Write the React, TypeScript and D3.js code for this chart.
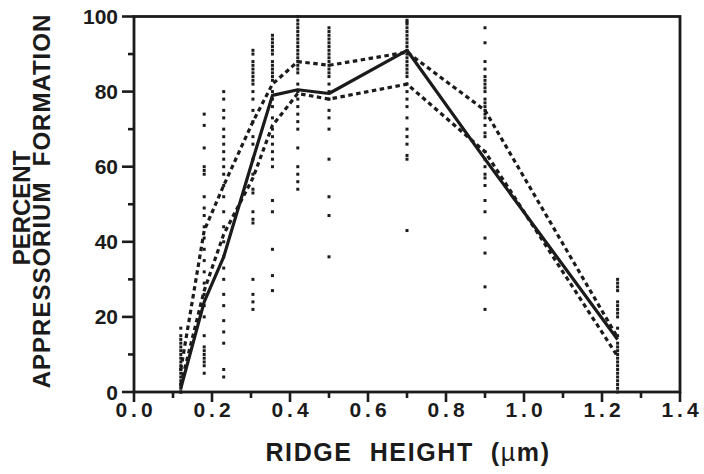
import React from 'react';
import * as d3 from 'd3';

// ridge heights (um) where measurements were taken
const ridgeHeights = [0.12, 0.18, 0.23, 0.305, 0.355, 0.42, 0.5, 0.7, 0.9, 1.24];

// mean and the two dashed bounding curves
const meanFormation = [1, 24, 36, 62, 79, 80.5, 79.5, 91, 62, 14];
const upperFormation = [6, 43, 55, 72, 82, 88, 87, 90.5, 75, 14.5];
const lowerFormation = [2, 27, 42, 57, 71, 79.5, 78, 82, 64, 9.5];

// individual observations, one list per ridge height
const obs012 = [0, 0, 1, 2, 2, 3, 4, 5, 6, 6, 7, 8, 9, 10, 11, 12, 13, 14, 15, 17];
const obs018 = [74, 71, 65, 60, 59, 58, 52, 49, 47, 44, 41, 38, 35, 32, 29, 26, 23, 20, 15, 12, 11, 10, 9, 8, 7, 5];
const obs023 = [80, 78, 75, 73, 70, 68, 66, 64, 62, 60, 58, 55, 52, 48, 44, 40, 36, 33, 30, 26, 23, 19, 16, 13, 6, 4];
const obs030 = [91, 90, 88, 87, 86, 85, 84, 83, 82, 80, 78, 75, 72, 68, 66, 62, 58, 54, 53, 48, 46, 45, 30, 26, 24, 22];
const obs035 = [95, 94, 93, 92, 91, 90, 88, 87, 86, 85, 84, 83, 80, 78, 76, 73, 70, 68, 66, 64, 62, 60, 51, 48, 38, 31, 27];
const obs042 = [100, 99, 98, 97, 96, 95, 94, 93, 92, 91, 90, 89, 88, 87, 86, 85, 82, 80, 78, 76, 74, 72, 70, 65, 60, 58, 56, 54];
const obs050 = [97, 96, 95, 94, 93, 92, 91, 90, 89, 88, 87, 86, 85, 84, 82, 80, 78, 75, 73, 70, 62, 52, 47, 36];
const obs070 = [99, 98.5, 98, 97, 96, 95, 94, 93, 92, 91, 90, 89, 88, 87, 86, 85, 84, 82, 80, 78, 76, 73, 70, 68, 66, 63, 62, 43];
const obs090 = [97, 93, 88, 86, 84, 83, 82, 81, 80, 78, 77, 76, 75, 74, 73, 71, 69, 68, 64, 62, 60, 58, 57, 55, 51, 48, 41, 37, 28, 22];
const obs124 = [30, 29, 28, 27, 24, 23, 22, 21, 20, 17, 15, 13, 12, 11, 10, 9, 8, 7, 6, 5, 4, 3, 2, 1, 0];

const observations = [obs012, obs018, obs023, obs030, obs035, obs042, obs050, obs070, obs090, obs124];

const xTicks = [0, 0.2, 0.4, 0.6, 0.8, 1.0, 1.2, 1.4];
const xMinorTicks = [0.1, 0.3, 0.5, 0.7, 0.9, 1.1, 1.3];
const yTicks = [0, 20, 40, 60, 80, 100];
const yMinorTicks = [10, 30, 50, 70, 90];

const W = 704;
const H = 474;
const INK = '#1b1b1b';

export default function App() {
  const x = d3.scaleLinear().domain([0, 1.4]).range([134, 680]);
  const y = d3.scaleLinear().domain([0, 100]).range([392, 16.5]);

  const line = d3.line<number>()
    .x((_, i) => x(ridgeHeights[i]))
    .y(d => y(d));

  const dots = observations.flatMap((col, i) => col.map(v => ({ rx: ridgeHeights[i], v })));

  const font = '"Liberation Sans", Arial, Helvetica, sans-serif';

  return (
    <svg width={W} height={H} style={{ position: 'absolute', left: 0, top: 0, background: '#fff' }}
      fontFamily={font}>
      {/* observations */}
      <g fill={INK}>
        {dots.map((d, i) => (
          <rect key={i} x={x(d.rx) - 1.5} y={y(d.v) - 1.5} width={3} height={3} />
        ))}
      </g>

      {/* curves */}
      <path d={line(upperFormation)!} fill="none" stroke={INK} strokeWidth={3.2} strokeDasharray="4.5,3.5" />
      <path d={line(lowerFormation)!} fill="none" stroke={INK} strokeWidth={3.2} strokeDasharray="4.5,3.5" />
      <path d={line(meanFormation)!} fill="none" stroke={INK} strokeWidth={3.2} strokeLinejoin="round" />

      {/* frame */}
      <rect x={x(0)} y={y(100)} width={x(1.4) - x(0)} height={y(0) - y(100)}
        fill="none" stroke={INK} strokeWidth={2.8} />

      {/* ticks */}
      <g stroke={INK} strokeWidth={2.6}>
        {xTicks.map(t => <line key={t} x1={x(t)} x2={x(t)} y1={y(0)} y2={y(0) + 10} />)}
        {xMinorTicks.map(t => <line key={t} x1={x(t)} x2={x(t)} y1={y(0)} y2={y(0) + 6} />)}
        {yTicks.map(t => <line key={t} x1={x(0)} x2={x(0) - 12} y1={y(t)} y2={y(t)} />)}
        {yMinorTicks.map(t => <line key={t} x1={x(0)} x2={x(0) - 6} y1={y(t)} y2={y(t)} />)}
      </g>

      <g fill={INK} fontSize={21} fontWeight="bold">
        {xTicks.map(t => (
          <text key={t} x={x(t) + 2} y={y(0) + 25} textAnchor="middle" letterSpacing={4}>
            {t.toFixed(1)}
          </text>
        ))}
        {yTicks.map(t => (
          <text key={t} x={x(0) - 16} y={y(t) + 7.5} textAnchor="end">{t}</text>
        ))}
      </g>

      {/* axis titles */}
      <text x={(x(0) + x(1.4)) / 2 + 1} y={461} textAnchor="middle" fontSize={25} fontWeight="bold"
        fill={INK} letterSpacing={1.6} style={{ whiteSpace: 'pre' }}>
        {'RIDGE  HEIGHT  ('}<tspan fontWeight="normal">µ</tspan>{'m)'}
      </text>
      <g transform="translate(30,208) rotate(-90)">
        <text x={0} y={0} textAnchor="middle" fontSize={24} fontWeight="bold" fill={INK}>
          PERCENT
        </text>
      </g>
      <g transform="translate(50,201) rotate(-90)">
        <text x={0} y={0} textAnchor="middle" fontSize={24} fontWeight="bold" fill={INK}
          letterSpacing={1} style={{ whiteSpace: 'pre' }}>
          {'APPRESSORIUM  FORMATION'}
        </text>
      </g>
    </svg>
  );
}
